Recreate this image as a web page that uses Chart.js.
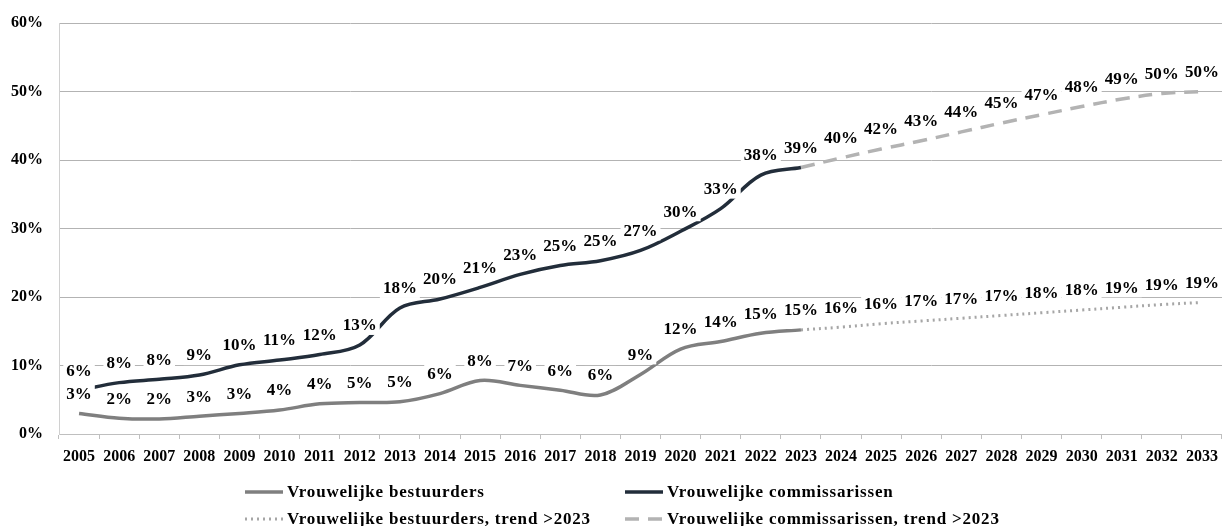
<!DOCTYPE html>
<html>
<head>
<meta charset="utf-8">
<script src="https://cdn.jsdelivr.net/npm/chart.js@4.4.1/dist/chart.umd.min.js"></script>
<style>
  html, body { margin: 0; padding: 0; background: #fff; }
  #wrap { position: relative; width: 1222px; height: 526px; }
  canvas { display: block; }
</style>
</head>
<body>
<div id="wrap"><canvas id="c" width="1222" height="526"></canvas></div>
<script>
// ---- data ----
const years = ['2005','2006','2007','2008','2009','2010','2011','2012','2013','2014',
  '2015','2016','2017','2018','2019','2020','2021','2022','2023','2024',
  '2025','2026','2027','2028','2029','2030','2031','2032','2033'];

const bestuurders = [3.0, 2.3, 2.2, 2.6, 3.0, 3.5, 4.4, 4.6, 4.7, 5.9,
  7.8, 7.1, 6.4, 5.7, 8.7, 12.4, 13.5, 14.7, 15.2];

const commissarissen = [6.4, 7.5, 8.0, 8.6, 10.1, 10.8, 11.6, 13.0, 18.4, 19.7,
  21.4, 23.3, 24.6, 25.3, 26.8, 29.6, 32.9, 37.8, 38.9];

// trend values from 2023 to 2033
const bestuurdersTrend = [15.2, 15.6, 16.1, 16.5, 16.9, 17.3, 17.7, 18.1, 18.5, 18.9, 19.2];
const commissarissenTrend = [38.9, 40.3, 41.6, 42.8, 44.1, 45.4, 46.6, 47.8, 48.9, 49.7, 50.0];

const yTicks = [0, 10, 20, 30, 40, 50, 60];

const seriesNames = ['Vrouwelijke bestuurders', 'Vrouwelijke commissarissen',
  'Vrouwelijke bestuurders, trend >2023', 'Vrouwelijke commissarissen, trend >2023'];

// ---- build full-length arrays ----
function pad(arr, start) {
  const out = years.map(() => null);
  arr.forEach((v, i) => { out[start + i] = v; });
  return out;
}
const trendStart = years.indexOf('2023');

const FONT = '"Liberation Serif", "Times New Roman", serif';

const datasets = [
  { label: seriesNames[0], data: pad(bestuurders, 0), borderColor: '#7f7f7f',
    borderWidth: 3.5, labelFrom: 0 },
  { label: seriesNames[1], data: pad(commissarissen, 0), borderColor: '#222d3a',
    borderWidth: 3.5, labelFrom: 0 },
  { label: seriesNames[2], data: pad(bestuurdersTrend, trendStart), borderColor: '#a6a6a6',
    borderWidth: 3, borderDash: [2, 4], labelFrom: trendStart + 1 },
  { label: seriesNames[3], data: pad(commissarissenTrend, trendStart), borderColor: '#b3b3b3',
    borderWidth: 3.5, borderDash: [14, 9], labelFrom: trendStart + 1 }
].map(d => Object.assign({ pointRadius: 0, pointHoverRadius: 0, tension: 0.35,
  fill: false, spanGaps: false, borderCapStyle: 'butt' }, d));

// data labels with white background
const labelPlugin = {
  id: 'valueLabels',
  afterDatasetsDraw(chart) {
    const ctx = chart.ctx;
    ctx.save();
    ctx.font = 'bold 17px ' + FONT;
    ctx.textAlign = 'center';
    ctx.textBaseline = 'middle';
    chart.data.datasets.forEach((ds, di) => {
      const meta = chart.getDatasetMeta(di);
      ds.data.forEach((v, i) => {
        if (v === null || i < ds.labelFrom) return;
        const pt = meta.data[i];
        const txt = Math.round(v) + '%';
        const w = ctx.measureText(txt).width;
        const cy = pt.y - 20;
        ctx.fillStyle = '#ffffff';
        ctx.fillRect(pt.x - w / 2 - 3, cy - 9, w + 6, 19);
        ctx.fillStyle = '#000000';
        ctx.fillText(txt, pt.x, cy + 1);
      });
    });
    ctx.restore();
  }
};

// legend in two columns
const legendPlugin = {
  id: 'gridLegend',
  afterDraw(chart) {
    const ctx = chart.ctx;
    const slots = [
      { x: 245, y: 492 }, { x: 625, y: 492 },
      { x: 245, y: 519 }, { x: 625, y: 519 }
    ];
    ctx.save();
    chart.data.datasets.forEach((ds, i) => {
      const s = slots[i];
      ctx.beginPath();
      ctx.strokeStyle = ds.borderColor;
      ctx.lineWidth = ds.borderWidth;
      ctx.setLineDash(ds.borderDash || []);
      ctx.moveTo(s.x, s.y);
      ctx.lineTo(s.x + 38, s.y);
      ctx.stroke();
      ctx.setLineDash([]);
      ctx.font = 'bold 17px ' + FONT;
      if ('letterSpacing' in ctx) ctx.letterSpacing = '0.8px';
      ctx.fillStyle = '#000';
      ctx.textAlign = 'left';
      ctx.textBaseline = 'middle';
      ctx.fillText(ds.label, s.x + 42, s.y + 1);
    });
    ctx.restore();
  }
};

new Chart(document.getElementById('c'), {
  type: 'line',
  data: { labels: years, datasets: datasets },
  options: {
    responsive: false,
    animation: false,
    devicePixelRatio: 1,
    layout: { padding: { top: 23, right: 0, bottom: 58, left: 0 } },
    plugins: { legend: { display: false }, tooltip: { enabled: false }, title: { display: false } },
    scales: {
      x: {
        type: 'category',
        offset: true,
        grid: { offset: true, drawOnChartArea: false, drawTicks: true, tickLength: 5, color: '#bfbfbf' },
        border: { color: '#bfbfbf', width: 1 },
        ticks: { color: '#000', font: { family: FONT, size: 16, weight: 'bold' },
          maxRotation: 0, autoSkip: false, padding: 8 },
        afterFit(scale) { scale.height = 34; scale.paddingLeft = 0; scale.paddingRight = 0; }
      },
      y: {
        min: 0, max: 60,
        afterBuildTicks(scale) { scale.ticks = yTicks.map(v => ({ value: v })); },
        grid: { color: '#b3b3b3', drawTicks: false },
        border: { color: '#d0d0d0', width: 1 },
        ticks: { color: '#000', font: { family: FONT, size: 16, weight: 'bold' },
          padding: 16, callback: v => v + '%' },
        afterFit(scale) { scale.width = 59; scale.paddingTop = 0; scale.paddingBottom = 0; }
      }
    }
  },
  plugins: [labelPlugin, legendPlugin]
});
</script>
</body>
</html>
